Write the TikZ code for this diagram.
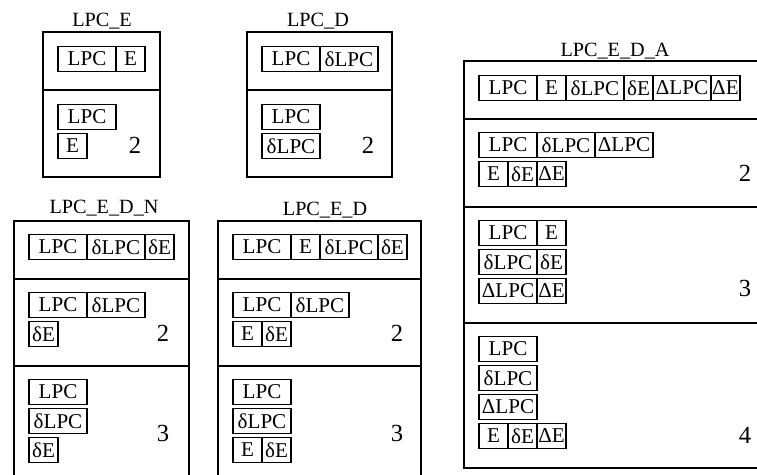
\documentclass[tikz,border=0pt]{standalone}
\usepackage{fontspec}
\setmainfont{Liberation Serif}
\usetikzlibrary{positioning}

\begin{document}
\begin{tikzpicture}[x=0.02cm,y=-0.02cm,line width=0.65pt,
 font=\fontsize{12}{14}\selectfont,
 cellw/.style={draw,minimum width=1.16cm,minimum height=0.49cm,inner sep=0pt,outer sep=0pt,anchor=west},
 celln/.style={cellw,minimum width=0.58cm},
 title/.style={anchor=base,font=\fontsize{11.5}{13}\selectfont},
 count/.style={font=\fontsize{14}{16}\selectfont}]
\useasboundingbox (0,0) rectangle (757,474);
\node[title] (tE) at (102,26) {LPC\_E};
\draw (43,32) rectangle (160,177) (43,90) -- (160,90);
\node[cellw] (e11) at (58,59) {LPC};
\node[celln,right=0pt of e11] (e12) {E};
\node[cellw] (e21) at (58,117) {LPC};
\node[celln] (e31) at (58,146) {E};
\node[count] (e2n) at (135,145) {2};
\node[title] (tD) at (318,26) {LPC\_D};
\draw (247,32) rectangle (392,177) (247,90) -- (392,90);
\node[cellw] (d11) at (262,59) {LPC};
\node[cellw,right=0pt of d11] (d12) {δLPC};
\node[cellw] (d21) at (262,117) {LPC};
\node[cellw] (d31) at (262,146) {δLPC};
\node[count] (d2n) at (368,145) {2};
\node[title] (tN) at (104,213) {LPC\_E\_D\_N};
\draw (14,490) -- (14,221) -- (189,221) -- (189,490) (14,279) -- (189,279) (14,366) -- (189,366);
\node[cellw] (n11) at (29,247) {LPC};
\node[cellw,right=0pt of n11] (n12) {δLPC};
\node[celln,right=0pt of n12] (n13) {δE};
\node[cellw] (n21) at (29,305) {LPC};
\node[cellw,right=0pt of n21] (n22) {δLPC};
\node[celln] (n31) at (29,334) {δE};
\node[count] (n2n) at (163,333) {2};
\node[cellw] (n41) at (29,392) {LPC};
\node[cellw] (n51) at (29,421) {δLPC};
\node[celln] (n61) at (29,450) {δE};
\node[count] (n3n) at (163,433) {3};
\node[title] (tED) at (325,215) {LPC\_E\_D};
\draw (218,490) -- (218,221) -- (421,221) -- (421,490) (218,279) -- (421,279) (218,366) -- (421,366);
\node[cellw] (m11) at (233,247) {LPC};
\node[celln,right=0pt of m11] (m12) {E};
\node[cellw,right=0pt of m12] (m13) {δLPC};
\node[celln,right=0pt of m13] (m14) {δE};
\node[cellw] (m21) at (233,305) {LPC};
\node[cellw,right=0pt of m21] (m22) {δLPC};
\node[celln] (m31) at (233,334) {E};
\node[celln,right=0pt of m31] (m32) {δE};
\node[count] (m2n) at (397,333) {2};
\node[cellw] (m41) at (233,392) {LPC};
\node[cellw] (m51) at (233,421) {δLPC};
\node[celln] (m61) at (233,450) {E};
\node[celln,right=0pt of m61] (m62) {δE};
\node[count] (m3n) at (397,433) {3};
\node[title] (tA) at (615,56) {LPC\_E\_D\_A};
\draw (464,61) rectangle (766,468) (464,119) -- (766,119) (464,207) -- (766,207) (464,323) -- (766,323);
\node[cellw] (a11) at (479,88) {LPC};
\node[celln,right=0pt of a11] (a12) {E};
\node[cellw,right=0pt of a12] (a13) {δLPC};
\node[celln,right=0pt of a13] (a14) {δE};
\node[cellw,right=0pt of a14] (a15) {ΔLPC};
\node[celln,right=0pt of a15] (a16) {ΔE};
\node[cellw] (a21) at (479,145) {LPC};
\node[cellw,right=0pt of a21] (a22) {δLPC};
\node[cellw,right=0pt of a22] (a23) {ΔLPC};
\node[celln] (a31) at (479,174) {E};
\node[celln,right=0pt of a31] (a32) {δE};
\node[celln,right=0pt of a32] (a33) {ΔE};
\node[count] (a2n) at (745,173) {2};
\node[cellw] (a41) at (479,233) {LPC};
\node[celln,right=0pt of a41] (a42) {E};
\node[cellw] (a51) at (479,262) {δLPC};
\node[celln,right=0pt of a51] (a52) {δE};
\node[cellw] (a61) at (479,291) {ΔLPC};
\node[celln,right=0pt of a61] (a62) {ΔE};
\node[count] (a3n) at (745,288) {3};
\node[cellw] (a71) at (479,349) {LPC};
\node[cellw] (a81) at (479,378) {δLPC};
\node[cellw] (a91) at (479,407) {ΔLPC};
\node[celln] (a101) at (479,436) {E};
\node[celln,right=0pt of a101] (a102) {δE};
\node[celln,right=0pt of a102] (a103) {ΔE};
\node[count] (a4n) at (745,435) {4};
\end{tikzpicture}
\end{document}
